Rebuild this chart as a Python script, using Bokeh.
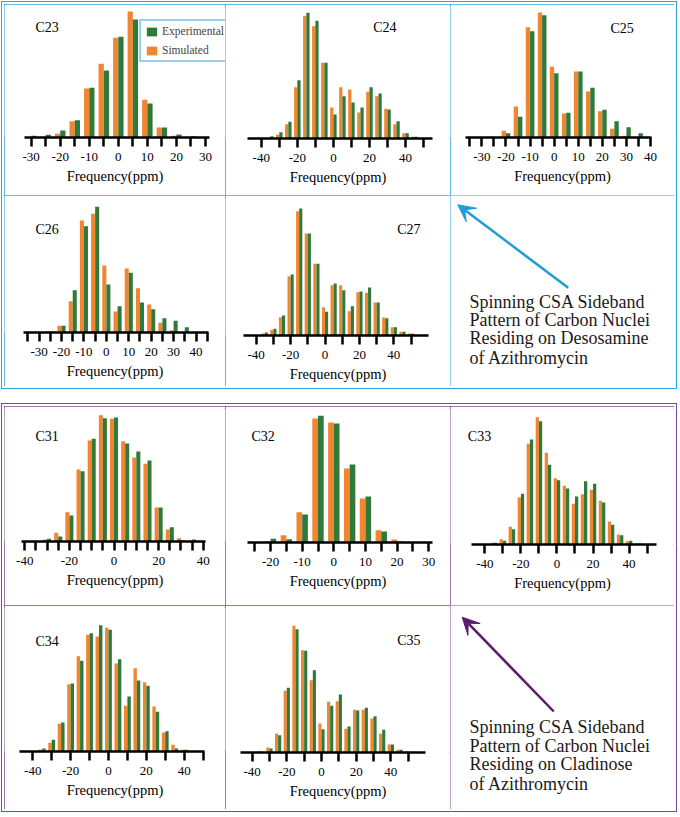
from bokeh.plotting import figure
from bokeh.layouts import row, column
from bokeh.models import (Range1d, FixedTicker, Label, Legend, LegendItem, Arrow,
                          VeeHead, Spacer, ColumnDataSource)
from bokeh.transform import dodge
from bokeh.embed import file_html
from bokeh.resources import INLINE

FONT = "Liberation Serif"
GREEN = "#2f7a3a"
ORANGE = "#f2852f"
BLUE = "#2ba5dd"
PURPLE = "#7c4a8f"
PURPLE_ARROW = "#5b1c70"

# ---------------- data (relative intensities, arbitrary units) ----------------
c23_ppm = [-30, -25, -20, -15, -10, -5, 0, 5, 10, 15, 20, 25]
c23_exp = [5, 8, 21, 52, 149, 201, 302, 354, 102, 30, 9, 4]
c23_sim = [0, 2, 11, 49, 147, 221, 299, 378, 113, 30, 5, 0]

c24_ppm = [-35, -30, -25, -20, -15, -10, -5, 0, 5, 10, 15, 20, 25, 30, 35, 40, 45, 50]
c24_exp = [7, 19, 50, 175, 377, 353, 227, 72, 127, 108, 93, 154, 135, 87, 52, 16, 5, 0]
c24_sim = [2, 11, 43, 154, 368, 337, 227, 93, 154, 147, 78, 140, 127, 89, 43, 16, 5, 1]

c25_ppm = [-25, -20, -15, -10, -5, 0, 5, 10, 15, 20, 25, 30, 35]
c25_exp = [0, 13, 62, 319, 367, 193, 74, 198, 149, 83, 49, 31, 13]
c25_sim = [2, 20, 93, 331, 375, 212, 72, 198, 138, 79, 26, 5, 1]

c26_ppm = [-25, -20, -15, -10, -5, 0, 5, 10, 15, 20, 25, 30, 35]
c26_exp = [3, 20, 127, 319, 377, 144, 79, 179, 90, 70, 43, 35, 16]
c26_sim = [3, 20, 94, 336, 356, 201, 63, 192, 133, 84, 29, 7, 1]

c27_ppm = [-35, -30, -25, -20, -15, -10, -5, 0, 5, 10, 15, 20, 25, 30, 35, 40, 45, 50]
c27_exp = [9, 20, 60, 183, 381, 306, 215, 71, 156, 136, 88, 132, 144, 99, 52, 25, 11, 5]
c27_sim = [6, 17, 55, 177, 373, 306, 215, 85, 151, 151, 73, 130, 128, 99, 54, 25, 11, 6]

c31_ppm = [-30, -25, -20, -15, -10, -5, 0, 5, 10, 15, 20, 25, 30, 35]
c31_exp = [8, 15, 78, 211, 308, 370, 372, 294, 270, 243, 102, 43, 4, 6]
c31_sim = [6, 26, 88, 216, 303, 379, 368, 301, 252, 233, 102, 36, 10, 2]

c32_ppm = [-20, -15, -10, -5, 0, 5, 10, 15, 20, 25]
c32_exp = [11, 10, 84, 380, 357, 234, 138, 33, 3, 1]
c32_sim = [4, 22, 91, 372, 360, 222, 132, 37, 9, 1]

c33_ppm = [-35, -30, -25, -20, -15, -10, -5, 0, 5, 10, 15, 20, 25, 30, 35, 40, 45]
c33_exp = [5, 11, 46, 152, 315, 370, 239, 193, 168, 144, 190, 182, 126, 59, 28, 11, 3]
c33_sim = [5, 16, 53, 142, 302, 382, 275, 199, 176, 122, 151, 164, 131, 69, 30, 10, 3]

c34_ppm = [-35, -30, -25, -20, -15, -10, -5, 0, 5, 10, 15, 20, 25, 30, 35, 40]
c34_exp = [9, 35, 87, 204, 272, 355, 379, 365, 277, 165, 213, 197, 119, 61, 9, 5]
c34_sim = [6, 26, 83, 202, 286, 350, 345, 371, 264, 137, 250, 208, 135, 57, 20, 5]

c35_ppm = [-35, -30, -25, -20, -15, -10, -5, 0, 5, 10, 15, 20, 25, 30, 35, 40, 45, 50]
c35_exp = [0, 12, 52, 194, 370, 305, 247, 70, 140, 174, 78, 126, 134, 109, 68, 24, 8, 2]
c35_sim = [4, 15, 57, 185, 380, 307, 217, 87, 152, 154, 71, 128, 128, 102, 56, 24, 8, 3]

# tick sets
ticks_30 = [-30, -25, -20, -15, -10, -5, 0, 5, 10, 15, 20, 25, 30]
labels_30 = [-30, -20, -10, 0, 10, 20, 30]
ticks_50 = [-40, -30, -20, -10, 0, 10, 20, 30, 40, 50]
labels_50 = [-40, -20, 0, 20, 40]
ticks_c25 = [-35, -30, -25, -20, -15, -10, -5, 0, 5, 10, 15, 20, 25, 30, 35, 40]
labels_c25 = [-30, -20, -10, 0, 10, 20, 30, 40]
ticks_c26 = [-35, -30, -25, -20, -15, -10, -5, 0, 5, 10, 15, 20, 25, 30, 35, 40, 45]
labels_c26 = [-30, -20, -10, 0, 10, 20, 30, 40]
ticks_c31 = [-40, -35, -30, -25, -20, -15, -10, -5, 0, 5, 10, 15, 20, 25, 30, 35, 40]
labels_c31 = [-40, -20, 0, 20, 40]
ticks_c32 = [-25, -20, -15, -10, -5, 0, 5, 10, 15, 20, 25, 30]
labels_c32 = [-20, -10, 0, 10, 20, 30]

blue_note = ["Spinning CSA Sideband", "Pattern of Carbon Nuclei",
             "Residing on Desosamine", "of Azithromycin"]
purple_note = ["Spinning CSA Sideband", "Pattern of Carbon Nuclei",
               "Residing on Cladinose", "of Azithromycin"]

# ---------------- layout geometry (page pixels) ----------------
CELL_X0 = [4, 225, 450]
CELL_W = [221, 225, 224]
CELL_Y0 = [4, 195, 406, 605]
CELL_H = [191, 191, 199, 204]
BAR_W = 1.8
TOP = 2


def cell_style(color):
    return {"outline": f"1px solid {color}", "outline-offset": "-1px"}


def panel(name, ppm, exp, sim, axis_ext, ticks, labeled, ax_px, base_abs, col, r,
          lab_abs, color, with_legend=False):
    w, h = CELL_W[col], CELL_H[r]
    cx0, cy0 = CELL_X0[col], CELL_Y0[r]
    left = ax_px[0] - cx0
    right = ax_px[1] - cx0
    base = round(base_abs - cy0)
    ppx = (right - left) / (axis_ext[1] - axis_ext[0])
    x_start = axis_ext[0] - left / ppx
    x_end = axis_ext[1] + (w - right) / ppx
    per_px = 3.0
    y_end = (base - TOP) * per_px
    p = figure(width=w, height=h, x_range=Range1d(x_start, x_end), y_range=Range1d(0, y_end),
               y_axis_type=None, toolbar_location=None, output_backend="svg",
               min_border_left=0, min_border_right=0, min_border_top=TOP,
               min_border_bottom=h - base, outline_line_color=None, frame_align=False,
               styles=cell_style(color))
    p.xgrid.visible = False
    src = ColumnDataSource(dict(ppm=ppm, exp=exp, sim=sim))
    o = p.vbar(x=dodge("ppm", -BAR_W / 2, range=p.x_range), top="sim", width=BAR_W,
               source=src, fill_color=ORANGE, line_color=None)
    g = p.vbar(x=dodge("ppm", BAR_W / 2, range=p.x_range), top="exp", width=BAR_W,
               source=src, fill_color=GREEN, line_color=None)
    ax = p.xaxis[0]
    ax.bounds = (axis_ext[0], axis_ext[1])
    ax.ticker = FixedTicker(ticks=labeled, minor_ticks=[t for t in ticks if t not in labeled])
    ax.major_label_overrides = {t: str(t) for t in labeled}
    ax.axis_line_width = 2.5
    ax.axis_line_color = "black"
    for pre in ("major", "minor"):
        setattr(ax, f"{pre}_tick_out", 9)
        setattr(ax, f"{pre}_tick_in", 0)
        setattr(ax, f"{pre}_tick_line_width", 2.5)
        setattr(ax, f"{pre}_tick_line_color", "black")
    ax.major_label_text_font = FONT
    ax.major_label_text_font_size = "13px"
    ax.major_label_text_color = "black"
    ax.major_label_standoff = 6
    ax.axis_label = "Frequency(ppm)"
    ax.axis_label_text_font = FONT
    ax.axis_label_text_font_size = "14.5px"
    ax.axis_label_text_font_style = "normal"
    ax.axis_label_text_color = "black"
    ax.axis_label_standoff = 4

    lx_cell, ly_cell = lab_abs[0] - cx0, lab_abs[1] - cy0
    p.add_layout(Label(x=x_start + lx_cell / ppx, y=(base - ly_cell) * per_px,
                       text=name, text_font=FONT, text_font_size="14px",
                       text_baseline="middle", text_align="left", text_color="black"))
    if with_legend:
        leg = Legend(items=[LegendItem(label="Experimental", renderers=[g]),
                            LegendItem(label="Simulated", renderers=[o])],
                     location=(135, base - 58), orientation="vertical",
                     border_line_color=BLUE, border_line_width=2,
                     label_text_font=FONT, label_text_font_size="11.5px",
                     glyph_width=13, glyph_height=11, label_height=12,
                     padding=4, spacing=7, margin=0, label_standoff=4,
                     background_fill_color="white", background_fill_alpha=1)
        p.add_layout(leg)
    return p


def annot(col, r, arrow_cell, lines, line_y, color_border, color_arrow):
    w, h = CELL_W[col], CELL_H[r]
    p = figure(width=w, height=h, x_range=Range1d(0, w), y_range=Range1d(h, 0),
               x_axis_type=None, y_axis_type=None, toolbar_location=None,
               output_backend="svg", min_border=0, min_border_left=0, min_border_right=0,
               min_border_top=0, min_border_bottom=0, outline_line_color=None,
               frame_align=False, styles=cell_style(color_border))
    (x0, y0), (x1, y1) = arrow_cell
    p.add_layout(Arrow(end=VeeHead(size=17, fill_color=color_arrow, line_color=color_arrow),
                       x_start=x0, y_start=y0, x_end=x1, y_end=y1,
                       line_color=color_arrow, line_width=2.5))
    for txt, yy in zip(lines, line_y):
        p.add_layout(Label(x=19, y=yy, text=txt, text_font=FONT,
                           text_font_size="18px", text_baseline="middle",
                           text_align="left", text_color="#1a1a1a"))
    return p


p23 = panel("C23", c23_ppm, c23_exp, c23_sim, (-32.3, 31.5), ticks_30, labels_30,
            (24, 209.3), 137, 0, 0, (35, 27), BLUE, with_legend=True)
p24 = panel("C24", c24_ppm, c24_exp, c24_sim, (-47.8, 54.8), ticks_50, labels_50,
            (246.7, 431.7), 137.7, 1, 0, (372.7, 27), BLUE)
p25 = panel("C25", c25_ppm, c25_exp, c25_sim, (-36.8, 40.4), ticks_c25, labels_c25,
            (465, 651), 137, 2, 0, (610, 27.5), BLUE)
p26 = panel("C26", c26_ppm, c26_exp, c26_sim, (-37.1, 45.7), ticks_c26, labels_c26,
            (22.7, 208.3), 332.3, 0, 1, (35, 229), BLUE)
p27 = panel("C27", c27_ppm, c27_exp, c27_sim, (-47.2, 60.3), ticks_50, labels_50,
            (243.3, 428.3), 335.3, 1, 1, (396.7, 229), BLUE)
a1 = annot(2, 1, ((117.7, 92.3), (7.3, 9.3)), blue_note, [106, 124, 142.7, 162], BLUE, "#1f9bd8")

p31 = panel("C31", c31_ppm, c31_exp, c31_sim, (-41.6, 41.0), ticks_c31, labels_c31,
            (20.7, 205), 541.3, 0, 2, (35, 435.7), PURPLE)
p32 = panel("C32", c32_ppm, c32_exp, c32_sim, (-27.2, 31.3), ticks_c32, labels_c32,
            (247.3, 432.3), 542.3, 1, 2, (251, 435.7), PURPLE)
p33 = panel("C33", c33_ppm, c33_exp, c33_sim, (-47.4, 55.2), ticks_50, labels_50,
            (471, 656), 544.3, 2, 2, (467.3, 435.7), PURPLE)
p34 = panel("C34", c34_ppm, c34_exp, c34_sim, (-47.0, 50.9), ticks_50, labels_50,
            (19, 204.3), 750.7, 0, 3, (35, 640.7), PURPLE)
p35 = panel("C35", c35_ppm, c35_exp, c35_sim, (-46.7, 60.0), ticks_50, labels_50,
            (240, 425), 751.7, 1, 3, (396.7, 640), PURPLE)
a2 = annot(2, 3, ((103.3, 106), (11.7, 11.7)), purple_note, [121.7, 140, 158.3, 178.3],
           PURPLE, PURPLE_ARROW)

blue_group = column(row(p23, p24, p25), row(p26, p27, a1),
                    styles={"outline": f"1px solid {BLUE}", "outline-offset": "2px"})
purple_group = column(row(p31, p32, p33), row(p34, p35, a2),
                      styles={"outline": f"1px solid {PURPLE}", "outline-offset": "2px"})
layout = column(Spacer(height=4),
                row(Spacer(width=4), blue_group),
                Spacer(height=20),
                row(Spacer(width=4), purple_group))

with open("out.html", "w") as f:
    f.write(file_html(layout, INLINE, title="CSA sideband patterns"))
